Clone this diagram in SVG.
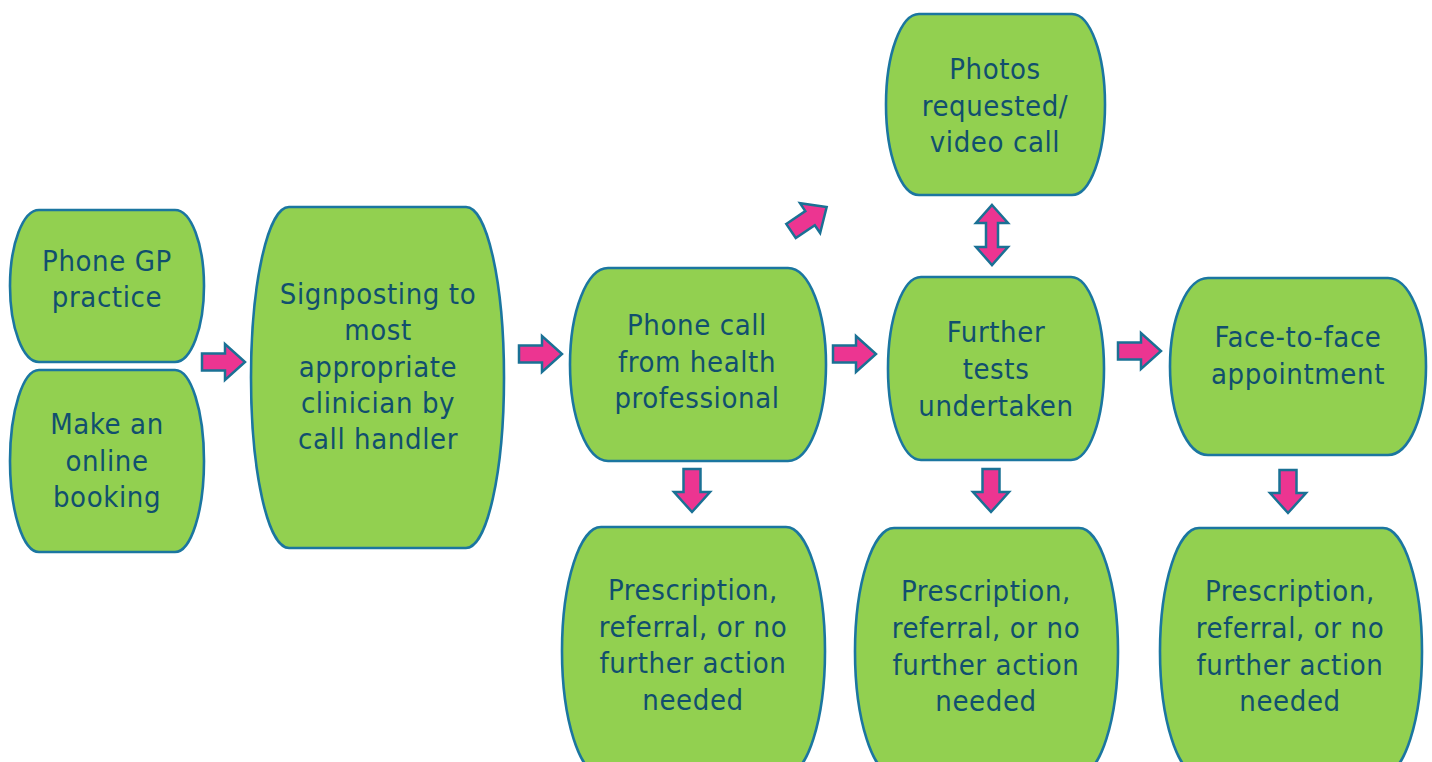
<svg xmlns="http://www.w3.org/2000/svg" width="1432" height="762" viewBox="0 0 1432 762">
  <style>
    .box { fill: #92d050; stroke: #1b76a0; stroke-width: 2.6; }
    .lbl { font-family: "DejaVu Sans", "Open Sans", sans-serif; font-stretch: condensed; font-size: 29px; letter-spacing: 0.6px; fill: #114f6e; text-anchor: middle; }
    .arr { fill: #ec3591; stroke: #1a7195; stroke-width: 2.5; stroke-linejoin: miter; }
  </style>
  <defs>
    <!-- block arrow pointing right, tail centre at the origin -->
    <path id="blockArrow" d="M0,-8.5 H23 V-18 L43,0 L23,18 V8.5 H0 Z"/>
  </defs>
  <rect width="1432" height="762" fill="#ffffff"/>

  <!-- nodes: flat top and bottom, elliptical bulging sides -->
  <g id="phone-gp">
    <path class="box" d="M39,210 H175 C191,210 204,244 204,286 C204,328 191,362 175,362 H39 C23,362 10,328 10,286 C10,244 23,210 39,210 Z"/>
    <text class="lbl" x="107" y="271">Phone GP</text>
    <text class="lbl" x="107" y="307">practice</text>
  </g>
  <g id="online-booking">
    <path class="box" d="M39,370 H175 C191,370 204,411 204,461 C204,511 191,552 175,552 H39 C23,552 10,511 10,461 C10,411 23,370 39,370 Z"/>
    <text class="lbl" x="107" y="434">Make an</text>
    <text class="lbl" x="107" y="471">online</text>
    <text class="lbl" x="107" y="507">booking</text>
  </g>
  <g id="signposting">
    <path class="box" d="M289,207 H466 C487,207 504,283 504,377.5 C504,472 487,548 466,548 H289 C268,548 251,472 251,377.5 C251,283 268,207 289,207 Z"/>
    <text class="lbl" x="378" y="304">Signposting to</text>
    <text class="lbl" x="378" y="340">most</text>
    <text class="lbl" x="378" y="377">appropriate</text>
    <text class="lbl" x="378" y="413">clinician by</text>
    <text class="lbl" x="378" y="449">call handler</text>
  </g>
  <g id="phone-call">
    <path class="box" d="M608,268 H788 C809,268 826,311 826,364.5 C826,418 809,461 788,461 H608 C587,461 570,418 570,364.5 C570,311 587,268 608,268 Z"/>
    <text class="lbl" x="697" y="335">Phone call</text>
    <text class="lbl" x="697" y="372">from health</text>
    <text class="lbl" x="697" y="408">professional</text>
  </g>
  <g id="photos-video">
    <path class="box" d="M919,14 H1072 C1090,14 1105,54 1105,104.5 C1105,155 1090,195 1072,195 H919 C901,195 886,155 886,104.5 C886,54 901,14 919,14 Z"/>
    <text class="lbl" x="995" y="79">Photos</text>
    <text class="lbl" x="995" y="116">requested/</text>
    <text class="lbl" x="995" y="152">video call</text>
  </g>
  <g id="further-tests">
    <path class="box" d="M921,277 H1071 C1089,277 1104,317.5 1104,368.5 C1104,419.5 1089,460 1071,460 H921 C903,460 888,419.5 888,368.5 C888,317.5 903,277 921,277 Z"/>
    <text class="lbl" x="996" y="342">Further</text>
    <text class="lbl" x="996" y="379">tests</text>
    <text class="lbl" x="996" y="416">undertaken</text>
  </g>
  <g id="face-to-face">
    <path class="box" d="M1208,278 H1388 C1409,278 1426,317.5 1426,366.5 C1426,415.5 1409,455 1388,455 H1208 C1187,455 1170,415.5 1170,366.5 C1170,317.5 1187,278 1208,278 Z"/>
    <text class="lbl" x="1298" y="347">Face-to-face</text>
    <text class="lbl" x="1298" y="384">appointment</text>
  </g>
  <g id="outcome-1">
    <path class="box" d="M601,527 H786 C807,527 825,582 825,651 C825,720 807,775 786,775 H601 C580,775 562,720 562,651 C562,582 580,527 601,527 Z"/>
    <text class="lbl" x="693" y="600">Prescription,</text>
    <text class="lbl" x="693" y="637">referral, or no</text>
    <text class="lbl" x="693" y="673">further action</text>
    <text class="lbl" x="693" y="710">needed</text>
  </g>
  <g id="outcome-2">
    <path class="box" d="M894,528 H1079 C1100,528 1118,583 1118,651.5 C1118,720 1100,775 1079,775 H894 C873,775 855,720 855,651.5 C855,583 873,528 894,528 Z"/>
    <text class="lbl" x="986" y="601">Prescription,</text>
    <text class="lbl" x="986" y="638">referral, or no</text>
    <text class="lbl" x="986" y="675">further action</text>
    <text class="lbl" x="986" y="711">needed</text>
  </g>
  <g id="outcome-3">
    <path class="box" d="M1199,528 H1383 C1404,528 1422,583 1422,651.5 C1422,720 1404,775 1383,775 H1199 C1178,775 1160,720 1160,651.5 C1160,583 1178,528 1199,528 Z"/>
    <text class="lbl" x="1290" y="601">Prescription,</text>
    <text class="lbl" x="1290" y="638">referral, or no</text>
    <text class="lbl" x="1290" y="675">further action</text>
    <text class="lbl" x="1290" y="711">needed</text>
  </g>

  <!-- connectors: block arrows -->
  <g id="connectors">
    <use href="#blockArrow" class="arr" transform="translate(202,362)"/>
    <use href="#blockArrow" class="arr" transform="translate(519,354)"/>
    <use href="#blockArrow" class="arr" transform="translate(833,354)"/>
    <use href="#blockArrow" class="arr" transform="translate(1118,351)"/>
    <use href="#blockArrow" class="arr" transform="translate(791,231) rotate(-34)"/>
    <use href="#blockArrow" class="arr" transform="translate(692,469) rotate(90)"/>
    <use href="#blockArrow" class="arr" transform="translate(991,469) rotate(90)"/>
    <use href="#blockArrow" class="arr" transform="translate(1288,470) rotate(90)"/>
    <path class="arr" d="M992,205 L1008,223 H998 V247 H1008 L992,265 L976,247 H986 V223 H976 Z"/>
  </g>
</svg>
